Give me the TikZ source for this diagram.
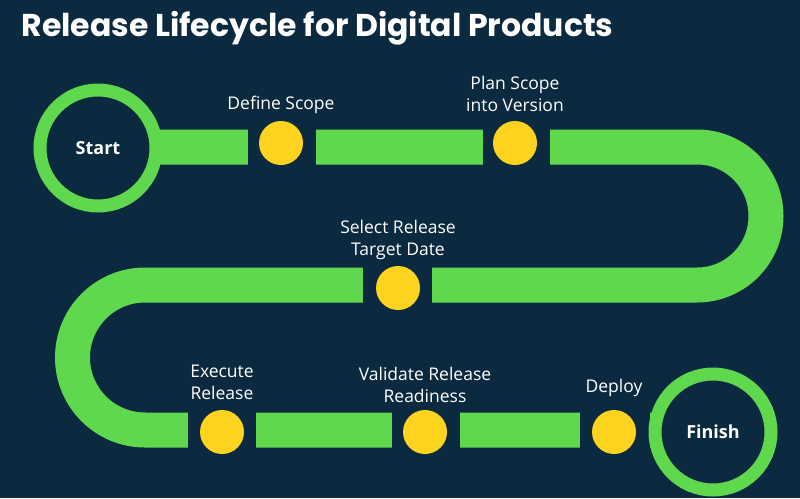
\documentclass[tikz,border=0pt]{standalone}
\usepackage{fontspec}
\setmainfont{Open Sans}
\newfontfamily\titlefont{Poppins}
\definecolor{bg}{HTML}{0B2A40}
\definecolor{trk}{HTML}{5FD84E}
\definecolor{dot}{HTML}{FDD31F}
\begin{document}
\begin{tikzpicture}[x=1pt,y=-1pt,
  track/.style={draw=trk,line width=35pt},
  gap/.style={fill=bg},
  stop/.style={circle,fill=dot,minimum size=44pt,inner sep=0pt},
  ring/.style={circle,draw=trk,line width=13pt,fill=bg,minimum size=116pt,inner sep=0pt,text=white,font=\bfseries\fontsize{18}{20}\selectfont},
  lbl/.style={text=white,align=center,font=\fontsize{17.5}{22}\selectfont}]
\useasboundingbox (0,0) rectangle (800,498);
\fill[bg] (0,0) rectangle (800,498);
\node[anchor=west,text=white,font=\titlefont\bfseries\fontsize{31.5}{34}\selectfont] (title) at (18,28) {Release Lifecycle for Digital Products};
% track
\draw[track] (98,147) -- (697,147) arc[start angle=-90,end angle=90,radius=69] -- (145,285) arc[start angle=-90,end angle=-270,radius=72.5] -- (713,430);
% gaps
\fill[gap] (248,120) rectangle (316,175);
\fill[gap] (483,120) rectangle (550,175);
\fill[gap] (363,260) rectangle (432,310);
\fill[gap] (188,405) rectangle (256,455);
\fill[gap] (392,405) rectangle (460,455);
\fill[gap] (580,405) rectangle (650,455);
\node[stop] (s1) at (281,143) {};
\node[stop] (s2) at (515,143) {};
\node[stop] (s3) at (398,288) {};
\node[stop] (s4) at (222,432) {};
\node[stop] (s5) at (425,432) {};
\node[stop] (s6) at (614,432) {};
\node[ring] (start) at (98,148) {Start};
\node[ring] (finish) at (713,432) {Finish};
\node[lbl] (l1) at (281,105) {Define Scope};
\node[lbl] (l2) at (515,94) {Plan Scope\\into Version};
\node[lbl] (l3) at (398,240) {Select Release\\Target Date};
\node[lbl] (l4) at (222,382) {Execute\\Release};
\node[lbl] (l5) at (425,385) {Validate Release\\Readiness};
\node[lbl] (l6) at (614,388) {Deploy};
\end{tikzpicture}
\end{document}
